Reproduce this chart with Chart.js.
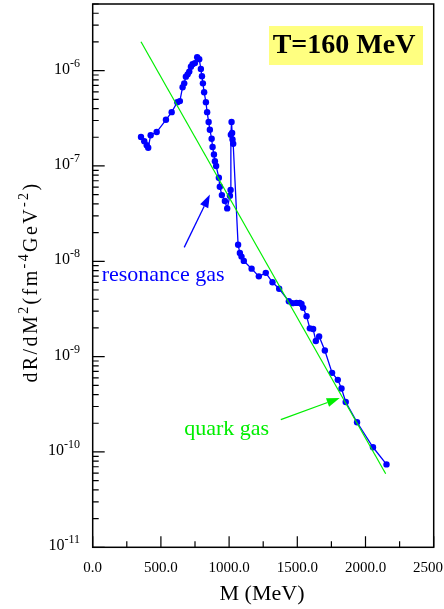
<!DOCTYPE html>
<html>
<head>
<meta charset="utf-8">
<script src="https://cdn.jsdelivr.net/npm/chart.js@4"></script>
<style>
  html, body { margin: 0; padding: 0; background: #fff; }
  #wrap { width: 444px; height: 609px; position: relative; }
</style>
</head>
<body>
<div id="wrap"><canvas id="chart-rate"></canvas></div>
<script>
// resonance gas (blue points)
const massRes = [354, 378, 396, 407, 425, 469, 537, 579, 620, 639, 659, 671, 683, 696, 708, 720, 732, 749, 766, 781,
  793, 801, 808, 817, 830, 839, 850, 859, 872, 879, 889, 896, 905, 925, 932, 947, 969, 986, 1006, 1011,
  1013, 1018, 1022, 1025, 1030, 1066, 1079, 1091, 1108, 1165, 1218, 1269, 1318, 1367, 1438, 1465, 1494, 1518, 1531, 1543,
  1568, 1592, 1616, 1636, 1660, 1702, 1755, 1797, 1824, 1855, 1938, 2055, 2154];
const rateRes = [2.01e-7, 1.82e-7, 1.65e-7, 1.55e-7, 2.10e-7, 2.27e-7, 3.05e-7, 3.67e-7, 4.67e-7, 4.79e-7, 6.70e-7, 7.36e-7, 8.65e-7, 9.14e-7, 9.77e-7, 1.10e-6, 1.17e-6, 1.20e-6, 1.38e-6, 1.32e-6,
  1.04e-6, 8.73e-7, 7.36e-7, 5.94e-7, 4.67e-7, 3.67e-7, 2.89e-7, 2.40e-7, 1.93e-7, 1.58e-7, 1.32e-7, 1.12e-7, 1.00e-7, 7.52e-8, 6.05e-8, 4.95e-8, 4.29e-8, 3.59e-8, 4.87e-8, 5.59e-8,
  2.13e-7, 2.89e-7, 2.22e-7, 1.90e-7, 1.71e-7, 1.49e-8, 1.22e-8, 1.12e-8, 1.01e-8, 8.37e-9, 6.95e-9, 7.57e-9, 6.02e-9, 5.15e-9, 3.81e-9, 3.64e-9, 3.66e-9, 3.66e-9, 3.57e-9, 3.25e-9,
  2.66e-9, 1.98e-9, 1.95e-9, 1.46e-9, 1.63e-9, 1.16e-9, 6.76e-10, 5.71e-10, 4.63e-10, 3.34e-10, 2.05e-10, 1.12e-10, 7.41e-11];

// quark gas (green line)
const massQuark = [354, 2148];
const rateQuark = [2.01e-6, 5.91e-11];

const xTicks = [0, 500, 1000, 1500, 2000, 2500];
const xTickLabels = ['0.0', '500.0', '1000.0', '1500.0', '2000.0', '2500.0'];
const yExps = [-11, -10, -9, -8, -7, -6];

// annotations in data coordinates: [mass, rate]
const arrowRes = [[671, 1.40e-8], [859, 5.02e-8]];
const arrowQuark = [[1379, 2.18e-10], [1811, 3.68e-10]];
const labelRes = [66, 6.17e-9];
const labelQuark = [671, 1.49e-10];

const BLUE = '#0000ff';
const GREEN = '#00ee00';
const SERIF = '"Liberation Serif", "DejaVu Serif", serif';

function toPts(xs, ys) {
  return xs.map(function (x, i) { return { x: x, y: ys[i] }; });
}

function arrow(ctx, x1, y1, x2, y2, color) {
  const a = Math.atan2(y2 - y1, x2 - x1);
  const len = 13, half = 4.5;
  const bx = x2 - len * Math.cos(a), by = y2 - len * Math.sin(a);
  ctx.strokeStyle = color;
  ctx.fillStyle = color;
  ctx.lineWidth = 1.3;
  ctx.beginPath();
  ctx.moveTo(x1, y1);
  ctx.lineTo(bx, by);
  ctx.stroke();
  ctx.beginPath();
  ctx.moveTo(x2, y2);
  ctx.lineTo(bx + half * Math.sin(a), by - half * Math.cos(a));
  ctx.lineTo(bx - half * Math.sin(a), by + half * Math.cos(a));
  ctx.closePath();
  ctx.fill();
}

const decor = {
  id: 'decor',
  afterDraw: function (chart) {
    const ctx = chart.ctx;
    const xs = chart.scales.x, ys = chart.scales.y;
    const a = chart.chartArea;
    ctx.save();

    // frame
    ctx.strokeStyle = '#000';
    ctx.lineWidth = 1.5;
    ctx.strokeRect(a.left, a.top, a.right - a.left, a.bottom - a.top);

    // x ticks (inward)
    ctx.lineWidth = 1.2;
    ctx.beginPath();
    for (let v = 0; v <= 2500; v += 250) {
      const px = xs.getPixelForValue(v);
      const len = v % 500 === 0 ? 11 : 6;
      ctx.moveTo(px, a.bottom);
      ctx.lineTo(px, a.bottom - len);
    }
    // y ticks (inward)
    for (let e = -11; e <= -6; e++) {
      for (let m = 1; m <= 9; m++) {
        const val = m * Math.pow(10, e);
        if (val > ys.max) break;
        const py = ys.getPixelForValue(val);
        const len = m === 1 ? 12 : 6;
        ctx.moveTo(a.left, py);
        ctx.lineTo(a.left + len, py);
      }
    }
    ctx.stroke();

    // x tick labels
    ctx.fillStyle = '#000';
    ctx.font = '15px ' + SERIF;
    ctx.textAlign = 'center';
    ctx.textBaseline = 'alphabetic';
    xTicks.forEach(function (v, i) {
      ctx.fillText(xTickLabels[i], xs.getPixelForValue(v), 572);
    });

    // y tick labels 10^e
    ctx.textAlign = 'left';
    yExps.forEach(function (e) {
      const py = ys.getPixelForValue(Math.pow(10, e));
      const sup = String(e);
      ctx.font = '12px ' + SERIF;
      const ws = ctx.measureText(sup).width;
      ctx.font = '16px ' + SERIF;
      const wb = ctx.measureText('10').width;
      const right = 80;
      ctx.fillText('10', right - ws - wb, py + 3);
      ctx.font = '12px ' + SERIF;
      ctx.fillText(sup, right - ws, py - 4);
    });

    // x title
    ctx.font = '22px ' + SERIF;
    ctx.textAlign = 'center';
    ctx.fillText('M (MeV)', 262, 600);

    // y title, rotated, letter-spaced, with superscripts
    const parts = [['dR/dM', 0], ['2', 1], ['(fm', 0], ['-4', 1], ['GeV', 0], ['-2', 1], [')', 0]];
    const spacing = 2.4;
    ctx.save();
    ctx.translate(37, 282);
    ctx.rotate(-Math.PI / 2);
    ctx.textAlign = 'left';
    let total = 0;
    parts.forEach(function (p) {
      ctx.font = (p[1] ? '14px ' : '20px ') + SERIF;
      for (const ch of p[0]) total += ctx.measureText(ch).width + spacing;
    });
    let cx = -total / 2;
    parts.forEach(function (p) {
      ctx.font = (p[1] ? '14px ' : '20px ') + SERIF;
      const dy = p[1] ? -9 : 0;
      for (const ch of p[0]) {
        ctx.fillText(ch, cx, dy);
        cx += ctx.measureText(ch).width + spacing;
      }
    });
    ctx.restore();

    // title box
    ctx.fillStyle = '#ffff80';
    ctx.fillRect(269, 26, 154, 39);
    ctx.fillStyle = '#000';
    ctx.font = 'bold 28px ' + SERIF;
    ctx.textAlign = 'center';
    ctx.fillText('T=160 MeV', 344, 53);

    // annotations
    arrow(ctx, xs.getPixelForValue(arrowRes[0][0]), ys.getPixelForValue(arrowRes[0][1]),
      xs.getPixelForValue(arrowRes[1][0]), ys.getPixelForValue(arrowRes[1][1]), BLUE);
    arrow(ctx, xs.getPixelForValue(arrowQuark[0][0]), ys.getPixelForValue(arrowQuark[0][1]),
      xs.getPixelForValue(arrowQuark[1][0]), ys.getPixelForValue(arrowQuark[1][1]), GREEN);

    ctx.font = '22px ' + SERIF;
    ctx.textAlign = 'left';
    ctx.fillStyle = BLUE;
    ctx.fillText('resonance gas', xs.getPixelForValue(labelRes[0]), ys.getPixelForValue(labelRes[1]));
    ctx.fillStyle = GREEN;
    ctx.fillText('quark gas', xs.getPixelForValue(labelQuark[0]), ys.getPixelForValue(labelQuark[1]));

    ctx.restore();
  }
};

document.addEventListener("DOMContentLoaded", function () {

  const ctx = document.getElementById('chart-rate');

  new Chart(ctx, {
    type: 'scatter',
    data: {
      datasets: [{
        label: 'quark gas',
        data: toPts(massQuark, rateQuark),
        showLine: true,
        borderColor: GREEN,
        borderWidth: 1.2,
        pointRadius: 0
      }, {
        label: 'resonance gas',
        data: toPts(massRes, rateRes),
        showLine: true,
        borderColor: BLUE,
        backgroundColor: BLUE,
        borderWidth: 1.3,
        pointRadius: 3.2,
        pointBorderWidth: 0
      }]
    },
    options: {
      responsive: true,
      maintainAspectRatio: false,
      animation: false,
      layout: {
        padding: { left: 92.7, right: 10.3, top: 1, bottom: 61.7 }
      },
      scales: {
        x: { type: 'linear', min: 0, max: 2500, display: false },
        y: { type: 'logarithmic', min: 1e-11, max: 5e-6, display: false }
      },
      plugins: {
        legend: false,
        tooltip: { enabled: false }
      }
    },
    plugins: [decor]
  });

});
</script>
</body>
</html>
